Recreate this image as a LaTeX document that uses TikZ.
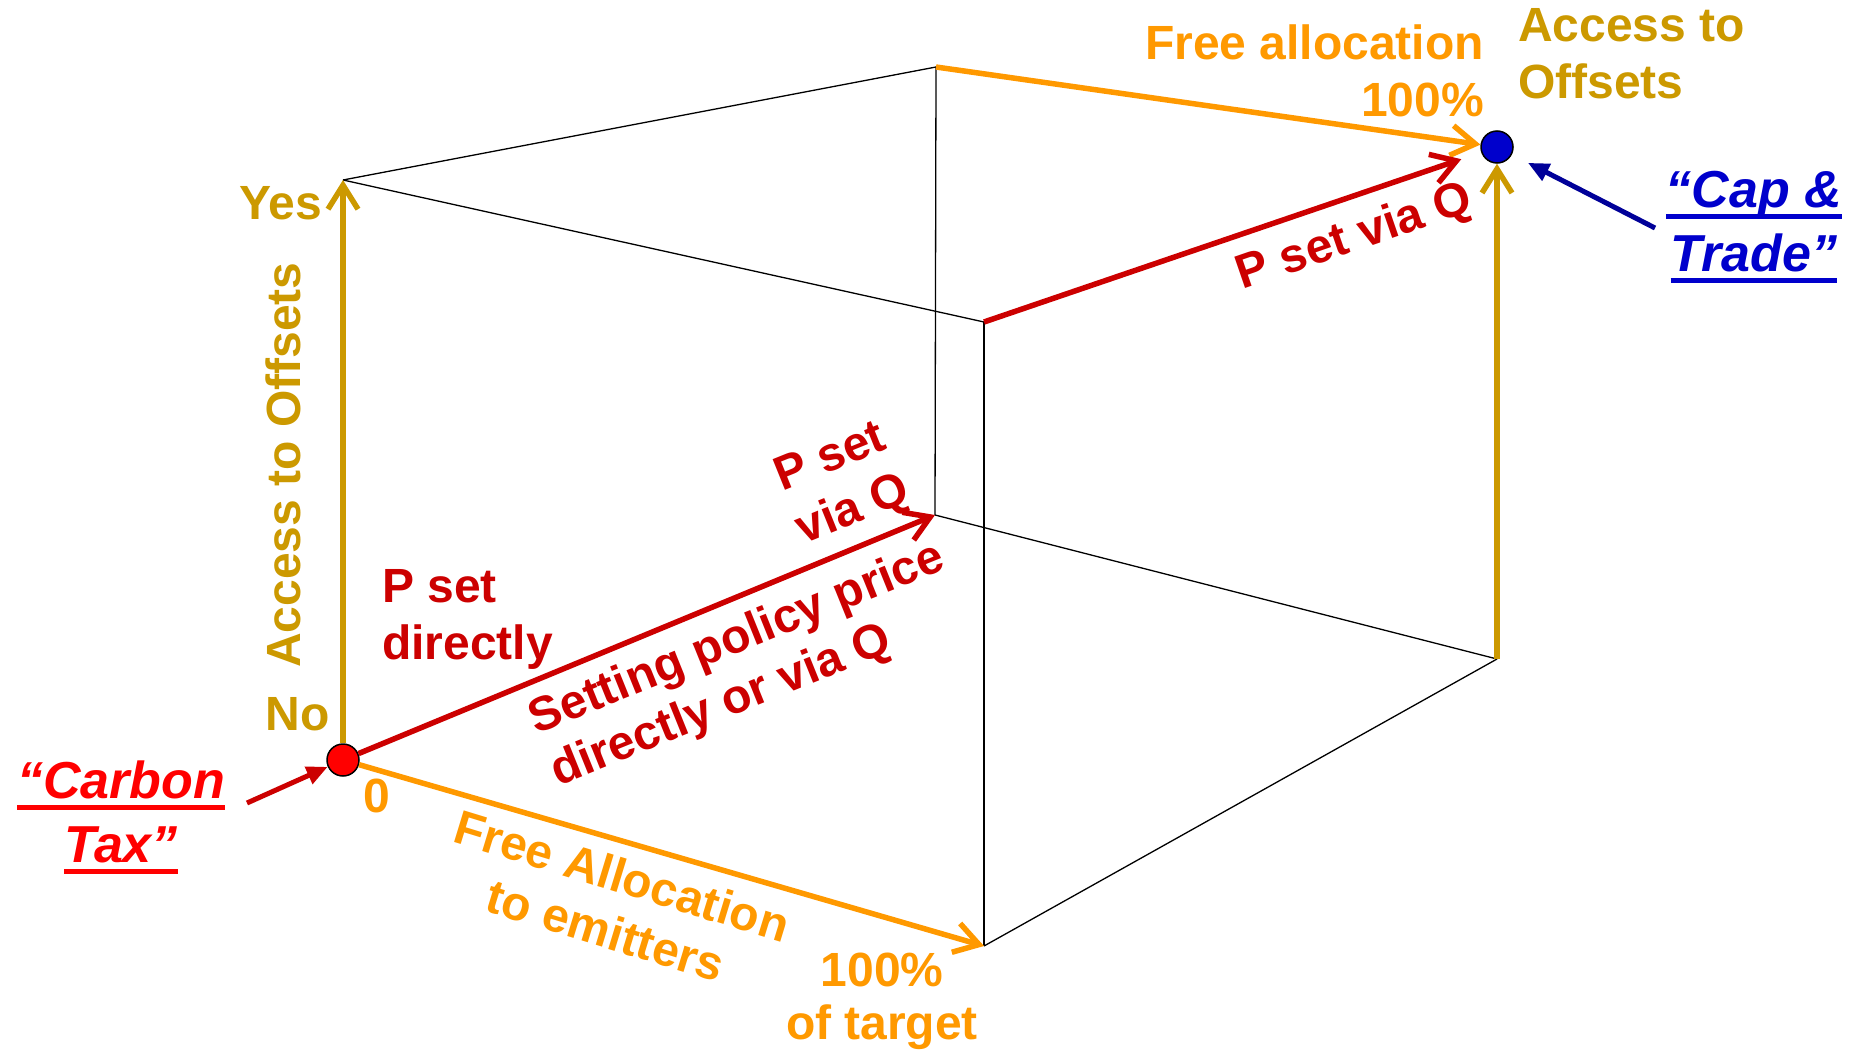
\documentclass[tikz,border=0pt]{standalone}
\usepackage{fontspec}
\setmainfont{Liberation Sans}
\usetikzlibrary{arrows.meta}
\definecolor{goldc}{RGB}{204,153,0}
\definecolor{orangec}{RGB}{255,153,0}
\definecolor{redc}{RGB}{204,0,0}
\definecolor{brightred}{RGB}{255,0,0}
\definecolor{bluec}{RGB}{0,0,204}
\definecolor{navyc}{RGB}{0,0,153}
\newcommand{\ulbox}[1]{\setbox0=\hbox{#1}\rlap{\rule[-11.5pt]{\wd0}{5pt}}\box0}
\tikzset{
  edge/.style={draw=black, line width=1.3pt},
  axis/.style={line width=5.5pt, -{Straight Barb[length=24pt,width=30pt]}},
  pointer/.style={line width=5pt, -{Triangle[length=21pt,width=18pt]}},
  dot/.style={circle, draw=black, line width=1.5pt, minimum size=32pt, inner sep=0pt},
  lbl/.style={font=\fontsize{48}{57}\selectfont\bfseries, inner sep=0pt},
  big/.style={font=\fontsize{52}{64}\selectfont\bfseries\itshape, inner sep=0pt, align=center},
}
\begin{document}
\begin{tikzpicture}[x=1pt,y=-1pt]
\fill[white] (0,0) rectangle (1854,1054);
\useasboundingbox (0,0) rectangle (1854,1054);
% cube corners
\coordinate (A) at (343,180);
\coordinate (B) at (936,67);
\coordinate (C) at (935,515);
\coordinate (D) at (984,322);
\coordinate (E) at (984,946);
\coordinate (F) at (1497,659);
% thin cube edges
\draw[edge] (A) -- (B);
\draw[edge] (A) -- (D);
\draw[edge] (B) -- (C);
\draw[edge] (D) -- (E);
\draw[edge] (C) -- (F);
\draw[edge] (E) -- (F);
% dots
\node[dot, fill=brightred] (reddot) at (343,760) {};
\node[dot, fill=bluec] (bluedot) at (1497,147) {};
% axes arrows
\draw[axis, goldc] (reddot) -- (A);
\draw[axis, redc] (reddot) -- (C);
\draw[axis, orangec] (reddot) -- (E);
\draw[axis, orangec] (B) -- (bluedot);
\draw[axis, redc, shorten >=21pt] (D) -- (bluedot);
\draw[axis, goldc] (F) -- (bluedot);
% pointer arrows
\coordinate (ctstart) at (247,803);
\coordinate (cptstart) at (1655,228);
\draw[pointer, redc] (ctstart) -- (reddot);
\draw[pointer, navyc, shorten >=18pt] (cptstart) -- (bluedot);
% labels
\node[lbl, orangec, align=right, anchor=east] (freealloc) at (1484,70.5) {Free allocation\\100\%};
\node[lbl, goldc, align=left, anchor=west] (access) at (1518,54) {Access to\\Offsets};
\node[lbl, goldc, anchor=base east] (yes) at (322,219) {Yes};
\node[lbl, goldc, anchor=base east] (no) at (330,730) {No};
\node[lbl, goldc, rotate=90, anchor=base] (accaxis) at (300,465) {Access to Offsets};
\node[lbl, orangec, anchor=base] (zero) at (376.5,812) {0};
\node[lbl, redc, align=left, anchor=west] (pdirect) at (382,619) {P set\\directly};
\node[lbl, redc, align=left, rotate=22] (psetq) at (843,485) {P set\\via Q};
\node[lbl, redc, align=left, rotate=22] (setting) at (748,666) {Setting policy price\\directly or via Q};
\node[lbl, redc, rotate=19, anchor=base] (psetviaq) at (1359,250) {P set via Q};
\node[lbl, orangec, align=center, rotate=-17] (freealloc2) at (614,903) {Free Allocation\\to emitters};
\node[lbl, orangec, align=center, font=\fontsize{48}{53}\selectfont\bfseries] (target) at (882,1001.5) {100\%\\of target};
\node[big, brightred] (carbon) at (121,817) {\ulbox{“Carbon}\\\ulbox{Tax”}};
\node[big, bluec] (captrade) at (1754,227) {\ulbox{“Cap \&}\\\ulbox{Trade”}};
\end{tikzpicture}
\end{document}
